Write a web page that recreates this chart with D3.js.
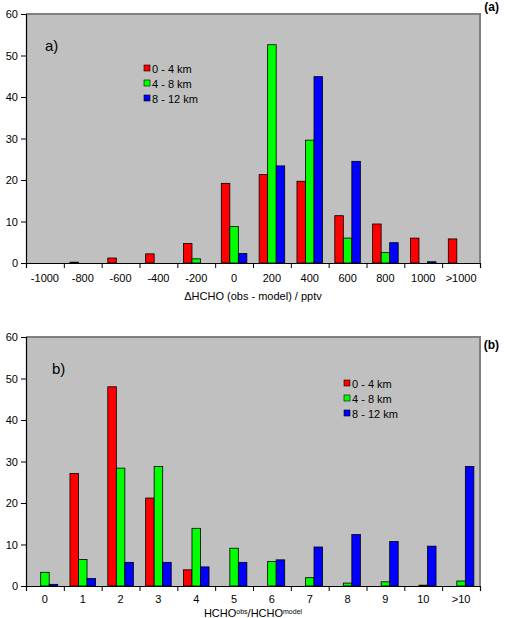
<!DOCTYPE html>
<html>
<head>
<meta charset="utf-8">
<script src="https://cdn.jsdelivr.net/npm/d3@7"></script>
<style>
  body { margin: 0; background: #fff; }
  svg text { font-family: Arial, "Liberation Sans", sans-serif; }
</style>
</head>
<body>
<script>
// data
var series = ["0 - 4 km", "4 - 8 km", "8 - 12 km"];
var colors = ["#ff0000", "#00ff00", "#0000ff"];

var catsA = ["-1000", "-800", "-600", "-400", "-200", "0", "200", "400", "600", "800", "1000", ">1000"];
var lowA  = [0, 0.2, 1.2, 2.2, 4.7, 19.2, 21.3, 19.7, 11.4, 9.4, 6.0, 5.8];
var midA  = [0, 0, 0, 0, 1.0, 8.8, 52.6, 29.6, 6.0, 2.5, 0, 0];
var highA = [0, 0, 0, 0, 0, 2.3, 23.4, 44.9, 24.5, 4.9, 0.3, 0];

var catsB = ["0", "1", "2", "3", "4", "5", "6", "7", "8", "9", "10", ">10"];
var lowB  = [0, 27.1, 48.0, 21.2, 3.9, 0, 0, 0, 0, 0, 0, 0];
var midB  = [3.3, 6.4, 28.4, 28.8, 13.9, 9.1, 5.9, 2.0, 0.7, 1.0, 0.2, 1.2];
var highB = [0.4, 1.8, 5.7, 5.7, 4.6, 5.7, 6.3, 9.4, 12.4, 10.7, 9.6, 28.8];

var yTicks = [0, 10, 20, 30, 40, 50, 60];

var svg = d3.select("body").append("svg")
  .attr("width", 510)
  .attr("height", 618);

function drawPanel(opt) {
  var left = 26, right = 480;
  var top = opt.top, bottom = opt.top + 249;
  var g = svg.append("g");

  var x0 = d3.scaleBand().domain(opt.cats).range([left, right]);
  var x1 = d3.scaleBand().domain(series).range([0, x0.bandwidth()]).paddingOuter(0.72);
  var y = d3.scaleLinear().domain([0, 60]).range([bottom, top]);
  var xLin = d3.scaleLinear().domain([0, opt.cats.length]).range([left, right]);

  // plot area
  g.append("rect")
    .attr("x", left).attr("y", top)
    .attr("width", right - left).attr("height", bottom - top)
    .attr("fill", "#c0c0c0");
  g.append("path")
    .attr("d", "M" + left + "," + top + "H" + right + "V" + bottom)
    .attr("fill", "none").attr("stroke", "#808080").attr("stroke-width", 2);

  // bars
  var rows = opt.cats.map(function(c, i) {
    return { cat: c, vals: [opt.vals[0][i], opt.vals[1][i], opt.vals[2][i]] };
  });
  var grp = g.selectAll(".grp").data(rows).enter().append("g")
    .attr("transform", function(d) { return "translate(" + x0(d.cat) + ",0)"; });
  grp.selectAll("rect").data(function(d) {
      return d.vals.map(function(v, k) { return { s: series[k], v: v, k: k }; });
    })
    .enter().filter(function(d) { return d.v > 0; }).append("rect")
    .attr("x", function(d) { return x1(d.s); })
    .attr("width", x1.bandwidth())
    .attr("y", function(d) { return y(d.v); })
    .attr("height", function(d) { return y(0) - y(d.v); })
    .attr("fill", function(d) { return colors[d.k]; })
    .attr("stroke", "#000").attr("stroke-width", 0.8);

  // y axis
  var ya = g.append("g").attr("transform", "translate(" + left + ",0)")
    .call(d3.axisLeft(y).tickValues(yTicks).tickSize(5).tickPadding(3));
  ya.select(".domain").attr("stroke", "#000").attr("stroke-width", 1.2);
  ya.selectAll("text").attr("font-size", 11).attr("fill", "#000").attr("font-family", "Arial");

  // x axis ticks at category boundaries
  var xt = g.append("g").attr("transform", "translate(0," + bottom + ")")
    .call(d3.axisBottom(xLin).ticks(opt.cats.length).tickSize(5).tickFormat(""));
  xt.select(".domain").attr("stroke", "#000").attr("stroke-width", 1.2);
  // x labels centered in categories
  var xl = g.append("g").attr("transform", "translate(0," + bottom + ")")
    .call(d3.axisBottom(x0).tickSize(0).tickPadding(opt.labPad));
  xl.select(".domain").remove();
  xl.selectAll("text").attr("font-size", 11).attr("fill", "#000").attr("font-family", "Arial");

  // panel letter
  g.append("text").attr("x", opt.letterX).attr("y", top + 37)
    .attr("font-size", 15).text(opt.letter);

  // legend
  var lg = g.append("g").attr("transform", "translate(" + opt.legX + "," + opt.legY + ")");
  series.forEach(function(s, k) {
    lg.append("rect").attr("x", 0).attr("y", k * 15 - 4)
      .attr("width", 6).attr("height", 6)
      .attr("fill", colors[k]).attr("stroke", "#000").attr("stroke-width", 0.6);
    lg.append("text").attr("x", 8).attr("y", k * 15 + 3.5)
      .attr("font-size", 11).text(s);
  });

  // corner tag
  svg.append("text").attr("x", 499).attr("y", opt.tagY)
    .attr("text-anchor", "end")
    .attr("font-family", "'Liberation Serif', 'Times New Roman', serif")
    .attr("font-weight", "bold").attr("font-size", 12).text(opt.tag);
}

drawPanel({ top: 14, cats: catsA, vals: [lowA, midA, highA], letter: "a)", letterX: 45,
            legX: 144, legY: 69, tag: "(a)", tagY: 11, labPad: 11 });
drawPanel({ top: 337, cats: catsB, vals: [lowB, midB, highB], letter: "b)", letterX: 52,
            legX: 344, legY: 384, tag: "(b)", tagY: 349, labPad: 9 });

// axis titles
svg.append("text").attr("x", 253).attr("y", 300).attr("text-anchor", "middle")
  .attr("font-size", 11).text("\u0394HCHO (obs - model) / pptv");

var t = svg.append("text").attr("x", 253).attr("y", 617).attr("text-anchor", "middle")
  .attr("font-size", 11);
t.append("tspan").text("HCHO");
t.append("tspan").attr("font-size", 7).attr("dy", -3).text("obs");
t.append("tspan").attr("dy", 3).text("/HCHO");
t.append("tspan").attr("font-size", 7).attr("dy", -3).text("model");
</script>
</body>
</html>
